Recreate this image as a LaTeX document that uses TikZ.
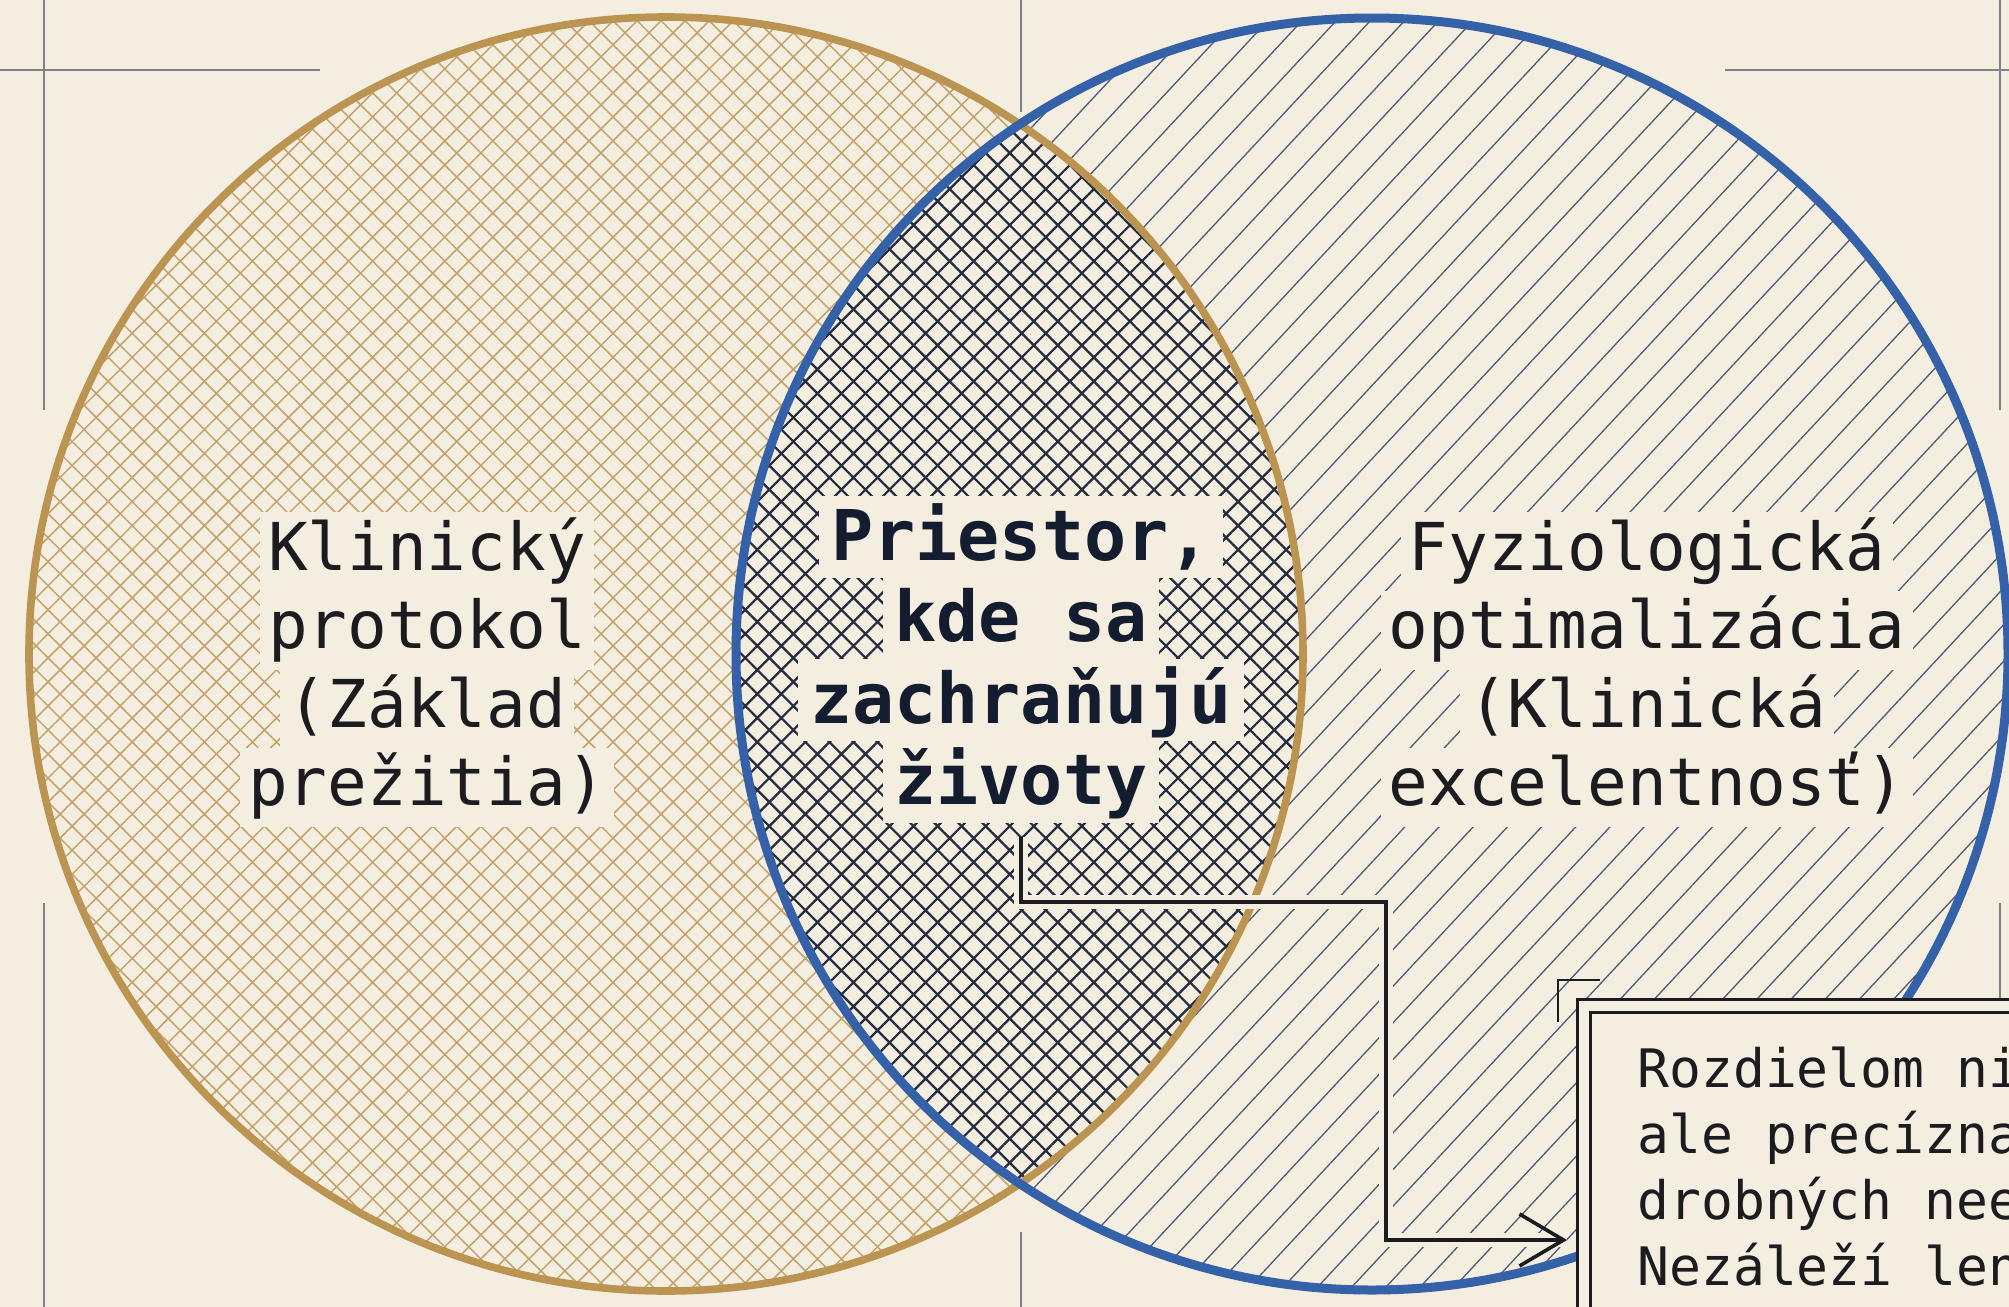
\documentclass[tikz,border=0pt]{standalone}
\usepackage{fontspec}
\newfontfamily\diagfont{DejaVu Sans Mono}
\usetikzlibrary{positioning,patterns.meta,arrows.meta}
\definecolor{paper}{HTML}{F4EEE0}
\definecolor{goldring}{HTML}{BC9452}
\definecolor{goldhatch}{HTML}{C4A26C}
\definecolor{bluering}{HTML}{3561A9}
\definecolor{bluehatch}{HTML}{4D5C76}
\definecolor{navyhatch}{HTML}{232C40}
\definecolor{ink}{HTML}{1C1C20}
\definecolor{navyink}{HTML}{141D30}
\definecolor{cropgray}{HTML}{7C818A}

\begin{document}
\begin{tikzpicture}[x=0.5pt,y=-0.5pt,
  crop/.style={cropgray, line width=0.75pt},
  goldset/.style={preaction={fill=paper}, pattern={Hatch[angle=45,distance=8.5pt,line width=0.75pt]}, pattern color=goldhatch},
  blueset/.style={pattern={Lines[angle=47,distance=12.5pt,line width=0.65pt]}, pattern color=bluehatch},
  bothset/.style={pattern={Hatch[angle=45,distance=8.5pt,line width=1.1pt]}, pattern color=navyhatch},
  sidelabel/.style={fill=paper, text=ink, font=\diagfont\fontsize{33}{39.5}\selectfont, text height=29pt, text depth=10.5pt, inner xsep=4pt, inner ysep=0pt},
  midlabel/.style={fill=paper, text=navyink, font=\diagfont\bfseries\fontsize{35}{41}\selectfont, text height=32pt, text depth=9pt, inner xsep=6pt, inner ysep=0pt},
  notetext/.style={text=ink, font=\diagfont\fontsize{26.5}{33}\selectfont, align=left, inner sep=0pt, anchor=north west},
  noteframe/.style={draw=ink, line width=1.5pt, double=paper, double distance=5pt, fill=paper},
  leader/.style={ink, line width=1.8pt, -{Straight Barb[length=22pt,width=26pt]}, shorten <=7pt, preaction={draw=paper, line width=7pt, -}}]
\useasboundingbox (0,0) rectangle (2009,1307);
\clip (0,0) rectangle (2009,1307);
\fill[paper] (0,0) rectangle (2009,1307);
\draw[crop] (0,70) -- (320,70);
\draw[crop] (1725,70) -- (2009,70);
\draw[crop] (44,0) -- (44,410);
\draw[crop] (44,903) -- (44,1307);
\draw[crop] (2000,0) -- (2000,410);
\draw[crop] (2000,903) -- (2000,1307);
\draw[crop] (1021,0) -- (1021,112);
\draw[crop] (1021,1232) -- (1021,1307);
\coordinate (gold) at (666,654);
\coordinate (blue) at (1372,654);
\path[blueset] (blue) circle[radius=318pt];
\path[goldset] (gold) circle[radius=318.5pt];
\begin{scope}
\clip (gold) circle[radius=318.5pt];
\path[bothset] (blue) circle[radius=318pt];
\end{scope}
\draw[goldring, line width=3.8pt] (gold) circle[radius=318.5pt];
\draw[bluering, line width=4.5pt] (blue) circle[radius=318pt];
\node[sidelabel, anchor=base] (k1) at (427,570) {Klinický};
\node[sidelabel, below=-0.6pt of k1] (k2) {protokol};
\node[sidelabel, below=-0.6pt of k2] (k3) {(Základ};
\node[sidelabel, below=-0.6pt of k3] (k4) {prežitia)};
\node[sidelabel, anchor=base] (f1) at (1647,570) {Fyziologická};
\node[sidelabel, below=-0.6pt of f1] (f2) {optimalizácia};
\node[sidelabel, below=-0.6pt of f2] (f3) {(Klinická};
\node[sidelabel, below=-0.6pt of f3] (f4) {excelentnosť)};
\node[midlabel, anchor=base] (z1) at (1021,560) {Priestor,};
\node[midlabel, below=-0.6pt of z1] (z2) {kde sa};
\node[midlabel, below=-0.6pt of z2] (z3) {zachraňujú};
\node[midlabel, below=-0.6pt of z3] (z4) {životy};
\coordinate (frame) at (1583.5,1006);
\draw[noteframe] (frame) rectangle (2200,1500);
\draw[ink, line width=1.3pt] (1558,1022) -- (1558,980) -- (1600,980);
\node[notetext] (note) at (1637,1047) {Rozdielom ni\\ale precízna\\drobných nee\\Nezáleží len};
\coordinate (elbow) at (1386,902);
\coordinate (tip) at (1567,1240);
\draw[leader] (z4.south) |- (elbow) |- (tip);
\end{tikzpicture}
\end{document}
